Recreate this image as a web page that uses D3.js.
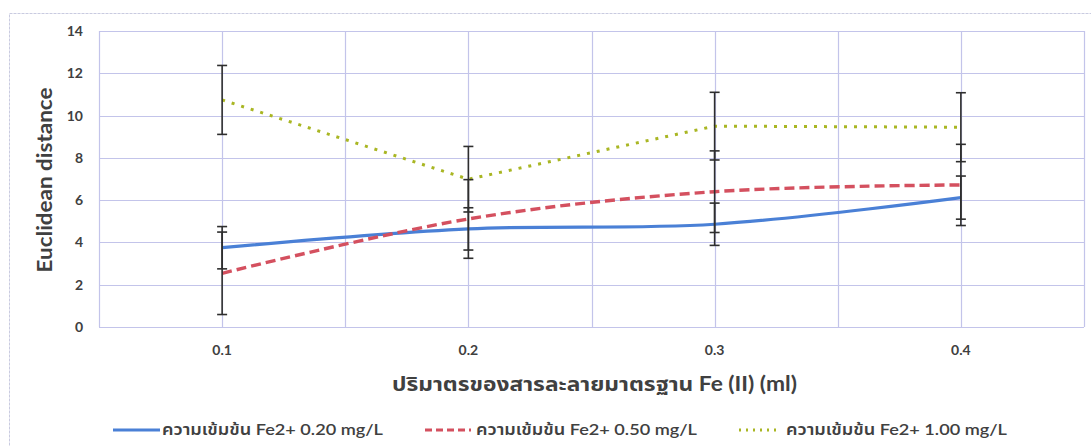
<!DOCTYPE html>
<html>
<head>
<meta charset="utf-8">
<script src="https://cdn.jsdelivr.net/npm/d3@7"></script>
<style>
  html, body { margin: 0; padding: 0; background: #fff; }
  svg { display: block; }
  text { font-family: Lato, "Noto Sans", "Noto Sans Thai", sans-serif; fill: #404040; }
</style>
</head>
<body>
<svg id="chart" width="1091" height="446"></svg>
<script>
// Volumes of Fe(II) standard solution (ml)
const categories = ["0.1", "0.2", "0.3", "0.4"];

// Euclidean distance for each Fe2+ concentration, with error amounts
const seriesNames = [
  "ความเข้มข้น Fe2+ 0.20 mg/L",
  "ความเข้มข้น Fe2+ 0.50 mg/L",
  "ความเข้มข้น Fe2+ 1.00 mg/L"
];
const fe020 = [3.75, 4.64, 4.86, 6.12];
const fe020Err = [1.0, 1.0, 1.0, 1.02];
const fe050 = [2.54, 5.11, 6.40, 6.72];
const fe050Err = [1.95, 1.86, 1.93, 1.92];
const fe100 = [10.74, 6.99, 9.50, 9.45];
const fe100Err = [1.63, 1.55, 1.60, 1.63];

const yTicks = [0, 2, 4, 6, 8, 10, 12, 14];
const yTitle = "Euclidean distance";
const xTitle = "ปริมาตรของสารละลายมาตรฐาน Fe (II) (ml)";

const svg = d3.select("#chart");
const plot = { left: 99, right: 1084, top: 31, bottom: 327 };

const x = d3.scaleBand().domain(categories).range([plot.left, plot.right]);
const xc = d => x(d) + x.bandwidth() / 2;
const y = d3.scaleLinear().domain([0, 14]).range([plot.bottom, plot.top]);

// outer chart frame
svg.append("rect")
  .attr("x", 9.5).attr("y", 13.5).attr("width", 1100).attr("height", 460)
  .attr("fill", "none").attr("stroke", "#c9cbe0").attr("stroke-width", 1)
  .attr("stroke-dasharray", "3,1");

// gridlines
const grid = svg.append("g").attr("stroke", "#c3c4ea").attr("stroke-width", 1.2);
grid.selectAll("line.h").data(yTicks).join("line")
  .attr("x1", plot.left).attr("x2", plot.right)
  .attr("y1", d => Math.round(y(d)) + 0.5).attr("y2", d => Math.round(y(d)) + 0.5);
const vLines = [];
categories.forEach(c => { vLines.push(x(c)); vLines.push(xc(c)); });
vLines.push(plot.right);
grid.selectAll("line.v").data(vLines).join("line")
  .attr("y1", plot.top).attr("y2", plot.bottom)
  .attr("x1", d => Math.round(d) + 0.5).attr("x2", d => Math.round(d) + 0.5);

// y axis labels
const yAxis = d3.axisLeft(y).tickValues(yTicks).tickSize(0).tickPadding(16);
svg.append("g").attr("transform", `translate(${plot.left},0)`).call(yAxis)
  .call(g => g.select(".domain").remove())
  .call(g => g.selectAll("text").attr("font-size", 14).attr("font-weight", 700)
    .style("font-family", "Lato, sans-serif").attr("fill", "#404040"));

// x axis labels
const xAxis = d3.axisBottom(x).tickSize(0).tickPadding(18);
svg.append("g").attr("transform", `translate(0,${plot.bottom})`).call(xAxis)
  .call(g => g.select(".domain").remove())
  .call(g => g.selectAll("text").attr("font-size", 14).attr("font-weight", 700)
    .style("font-family", "Lato, sans-serif").attr("fill", "#404040"));

// axis titles
svg.append("text")
  .attr("transform", `translate(52,${(plot.top + plot.bottom) / 2 + 1}) rotate(-90)`)
  .attr("text-anchor", "middle").attr("font-size", 20).attr("font-weight", 700)
  .attr("textLength", 185).attr("lengthAdjust", "spacingAndGlyphs")
  .text(yTitle);
svg.append("text")
  .attr("x", (plot.left + plot.right) / 2 + 3).attr("y", 391)
  .attr("text-anchor", "middle").attr("font-size", 20).attr("font-weight", 700)
  .attr("textLength", 405).attr("lengthAdjust", "spacingAndGlyphs")
  .text(xTitle);

const series = [
  { name: seriesNames[0], values: fe020, err: fe020Err, color: "#4a80d6", dash: null, width: 3.2, curve: d3.curveCatmullRom.alpha(0.5), legendDash: null },
  { name: seriesNames[1], values: fe050, err: fe050Err, color: "#d4505f", dash: "10,5", width: 3.4, curve: d3.curveCatmullRom.alpha(0.5), legendDash: "7,4" },
  { name: seriesNames[2], values: fe100, err: fe100Err, color: "#a9b623", dash: "3,7", width: 3, curve: d3.curveLinear, legendDash: "2,5" }
];

// lines
series.forEach(s => {
  const line = d3.line().x((d, i) => xc(categories[i])).y(d => y(d)).curve(s.curve);
  svg.append("path").datum(s.values)
    .attr("d", line).attr("fill", "none")
    .attr("stroke", s.color).attr("stroke-width", s.width)
    .attr("stroke-dasharray", s.dash);
});

// error bars
const eb = svg.append("g").attr("stroke", "#2e2e2e").attr("stroke-width", 1.6);
series.forEach(s => {
  s.values.forEach((v, i) => {
    const cx = xc(categories[i]);
    const hi = y(v + s.err[i]), lo = y(v - s.err[i]);
    eb.append("line").attr("x1", cx).attr("x2", cx).attr("y1", hi).attr("y2", lo);
    eb.append("line").attr("x1", cx - 5).attr("x2", cx + 5).attr("y1", hi).attr("y2", hi);
    eb.append("line").attr("x1", cx - 5).attr("x2", cx + 5).attr("y1", lo).attr("y2", lo);
  });
});

// legend
const legendItems = [
  { s: series[0], x0: 113, x1: 160, tx: 162 },
  { s: series[1], x0: 425, x1: 471, tx: 476 },
  { s: series[2], x0: 739, x1: 780, tx: 786 }
];
const ly = 430;
legendItems.forEach(it => {
  svg.append("line")
    .attr("x1", it.x0).attr("x2", it.x1).attr("y1", ly).attr("y2", ly)
    .attr("stroke", it.s.color).attr("stroke-width", 3)
    .attr("stroke-dasharray", it.s.legendDash);
  svg.append("text")
    .attr("x", it.tx).attr("y", ly).attr("dy", "0.35em")
    .attr("font-size", 15).attr("font-weight", 600)
    .attr("textLength", 221).attr("lengthAdjust", "spacingAndGlyphs")
    .text(it.s.name);
});
</script>
</body>
</html>
